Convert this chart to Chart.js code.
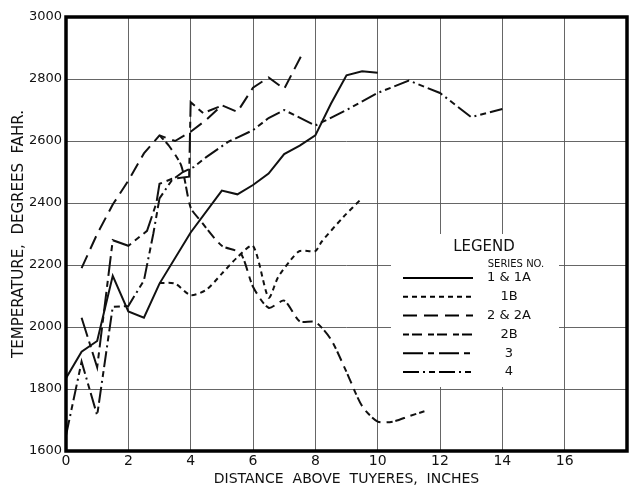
<!DOCTYPE html>
<html>
<head>
<meta charset="utf-8">
<script src="https://cdn.jsdelivr.net/npm/chart.js@4.4.1/dist/chart.umd.min.js"></script>
<style>
  body { margin: 0; background: #fff; }
</style>
</head>
<body>
<canvas id="tempChart" width="630" height="489"></canvas>
<script>
// tick labels
const xTickLabels = ['0', '2', '4', '6', '8', '10', '12', '14', '16'];
const yTickLabels = ['1600', '1800', '2000', '2200', '2400', '2600', '2800', '3000'];

// series names (legend order)
const seriesNames = ['1 & 1A', '1B', '2 & 2A', '2B', '3', '4'];

// 1 & 1A
const s1x = [0, 0.5, 1, 1.5, 2, 2.5, 3, 4, 5, 5.5, 6, 6.5, 7, 7.5, 8, 8.5, 9, 9.5, 10];
const s1y = [1835, 1920, 1955, 2165, 2050, 2030, 2140, 2305, 2440, 2428, 2458, 2495, 2558, 2585, 2618, 2720, 2812, 2825, 2820];
// 1B
const s2x = [3, 3.5, 4, 4.5, 5, 5.5, 6, 6.5, 6.8, 7.2, 7.5, 8, 8.2, 8.9, 9.5];
const s2y = [2142, 2140, 2103, 2120, 2172, 2225, 2262, 2095, 2160, 2215, 2245, 2245, 2275, 2355, 2416];
// 2 & 2A
const s3x = [0.5, 1, 1.5, 2, 2.5, 3, 3.5, 4, 4.5, 5, 5.5, 6, 6.5, 7, 7.6];
const s3y = [2190, 2300, 2395, 2472, 2560, 2618, 2600, 2630, 2668, 2715, 2694, 2772, 2805, 2768, 2885];
// 2B
const s4x = [3, 3.3, 3.7, 4, 4.3, 5, 5.6, 6, 6.5, 7, 7.5, 8, 8.5, 9, 9.5, 10, 10.5, 11, 11.5];
const s4y = [2618, 2585, 2520, 2385, 2345, 2262, 2238, 2130, 2062, 2085, 2018, 2016, 1960, 1855, 1745, 1695, 1695, 1712, 1728];
// 3
const s5x = [0.5, 1, 1.5, 2, 2.6, 2.9, 3, 3.4, 3.95, 4, 4.4, 4.9];
const s5y = [2030, 1870, 2280, 2262, 2310, 2400, 2462, 2478, 2485, 2725, 2690, 2710];
// 4
const s6x = [0, 0.5, 1, 1.5, 2, 2.5, 2.8, 3, 3.4, 3.75, 4.1, 4.5, 5.2, 6, 6.5, 7, 8, 9, 10, 11, 12, 13, 14];
const s6y = [1650, 1888, 1715, 2065, 2068, 2150, 2300, 2415, 2474, 2500, 2516, 2548, 2597, 2635, 2674, 2700, 2650, 2700, 2755, 2795, 2755, 2677, 2703];

const pts = (xs, ys) => xs.map((x, i) => ({ x: x, y: ys[i] }));

const dashes = [[], [5, 4], [14, 7], [6, 3, 10, 6], [20, 5, 6, 5], [16, 4, 2, 4, 6, 4]];
const tensions = [0, 0.25, 0, 0.25, 0, 0];
const allData = [pts(s1x, s1y), pts(s2x, s2y), pts(s3x, s3y), pts(s4x, s4y), pts(s5x, s5y), pts(s6x, s6y)];

const FONT = "'DejaVu Sans', sans-serif";

// white patch behind the legend, then frame + legend on top
const legendPlugin = {
    id: 'boxLegend',
    beforeDatasetsDraw(chart) {
        const ctx = chart.ctx;
        ctx.save();
        ctx.fillStyle = '#fff';
        ctx.fillRect(391, 234, 168, 153);
        ctx.restore();
    },
    afterDraw(chart) {
        const ctx = chart.ctx;
        const a = chart.chartArea;
        ctx.save();
        ctx.strokeStyle = '#000';
        ctx.lineWidth = 3.5;
        ctx.strokeRect(a.left, a.top, a.right - a.left, a.bottom - a.top);

        ctx.fillStyle = '#111';
        ctx.textAlign = 'center';
        ctx.textBaseline = 'middle';
        ctx.font = '15px ' + FONT;
        ctx.fillText('LEGEND', 484, 247);
        ctx.font = '10px ' + FONT;
        ctx.fillText('SERIES NO.', 516, 264);

        chart.data.datasets.forEach((ds, i) => {
            const y = 278 + i * 18.8;
            ctx.beginPath();
            ctx.setLineDash(ds.borderDash || []);
            ctx.lineWidth = 2;
            ctx.moveTo(403, y);
            ctx.lineTo(473, y);
            ctx.stroke();
            ctx.setLineDash([]);
            ctx.font = '13px ' + FONT;
            ctx.fillText(ds.label, 509, y);
        });
        ctx.restore();
    }
};

new Chart(document.getElementById('tempChart'), {
    type: 'line',
    data: {
        datasets: allData.map((d, i) => ({
            label: seriesNames[i],
            data: d,
            borderColor: '#111',
            borderWidth: 2,
            borderDash: dashes[i],
            tension: tensions[i],
            pointRadius: 0,
            fill: false
        }))
    },
    options: {
        responsive: false,
        animation: false,
        layout: { padding: { top: 17, right: 3, left: 0, bottom: 0 } },
        plugins: {
            legend: { display: false },
            tooltip: { enabled: false }
        },
        scales: {
            x: {
                type: 'linear',
                min: 0,
                max: 18,
                afterFit(scale) { scale.height = 38; },
                ticks: {
                    stepSize: 2,
                    color: '#111',
                    font: { family: FONT, size: 14 },
                    padding: 2,
                    maxRotation: 0,
                    callback: (v, i) => xTickLabels[i] ?? ''
                },
                grid: { color: '#555', lineWidth: 0.9, drawTicks: false },
                border: { display: false },
                title: {
                    display: true,
                    text: 'DISTANCE  ABOVE  TUYERES,  INCHES',
                    color: '#111',
                    font: { family: FONT, size: 14 },
                    padding: { top: 0, bottom: 1 }
                }
            },
            y: {
                min: 1600,
                max: 3000,
                afterFit(scale) { scale.width = 66; },
                ticks: {
                    stepSize: 200,
                    color: '#111',
                    font: { family: FONT, size: 13 },
                    padding: 4,
                    callback: (v, i) => yTickLabels[i] ?? ''
                },
                grid: { color: '#555', lineWidth: 0.9, drawTicks: false },
                border: { display: false },
                title: {
                    display: true,
                    text: 'TEMPERATURE,  DEGREES  FAHR.',
                    color: '#111',
                    font: { family: FONT, size: 15 },
                    padding: { top: 10, bottom: 0 }
                }
            }
        }
    },
    plugins: [legendPlugin]
});
</script>
</body>
</html>
